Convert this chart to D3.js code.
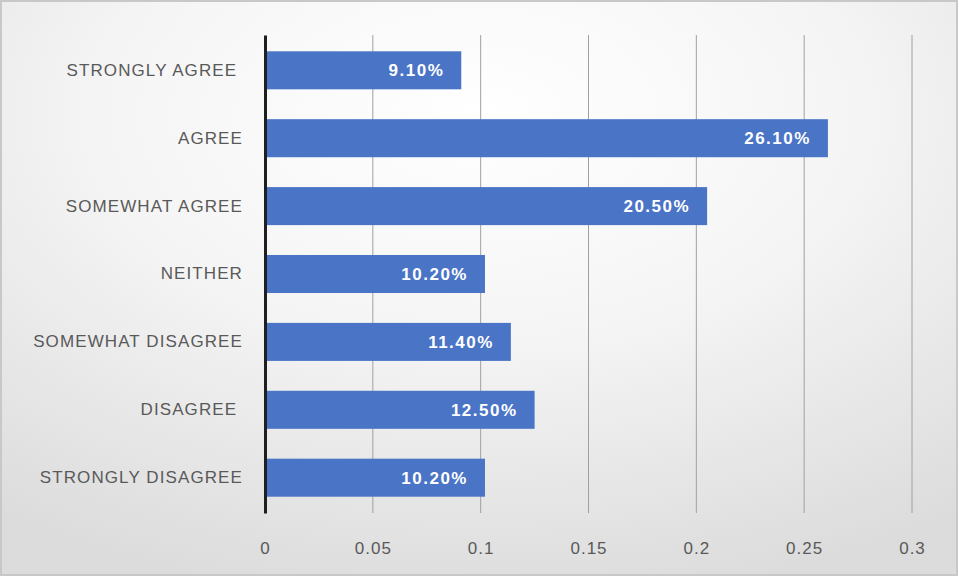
<!DOCTYPE html>
<html>
<head>
<meta charset="utf-8">
<script src="https://cdn.jsdelivr.net/npm/d3@7"></script>
<style>
  body { margin: 0; background: #fff; }
  svg { display: block; }
</style>
</head>
<body>
<div id="chart"></div>
<script>
// survey answers, top to bottom (trailing spaces as in the source sheet)
const categories = ["STRONGLY AGREE ", "AGREE", "SOMEWHAT AGREE", "NEITHER",
                    "SOMEWHAT DISAGREE", "DISAGREE ", "STRONGLY DISAGREE"];
const values = [0.091, 0.261, 0.205, 0.102, 0.114, 0.125, 0.102];
const xTicks = [0, 0.05, 0.1, 0.15, 0.2, 0.25, 0.3];

const W = 959, H = 577;
const margin = { top: 35, right: 47, bottom: 64, left: 265 };
const font = "'Liberation Sans', Arial, sans-serif";

const svg = d3.select("#chart")
              .append("svg")
              .attr("width", W)
              .attr("height", H);

// soft radial background
const defs = svg.append("defs");
const grad = defs.append("radialGradient")
                 .attr("id", "bg")
                 .attr("cx", "0.5").attr("cy", "0.2").attr("r", "0.85");
grad.append("stop").attr("offset", "0%").attr("stop-color", "#ffffff");
grad.append("stop").attr("offset", "45%").attr("stop-color", "#f5f5f5");
grad.append("stop").attr("offset", "100%").attr("stop-color", "#dcdcdc");

svg.append("rect")
   .attr("x", 1).attr("y", 1)
   .attr("width", W - 3).attr("height", H - 3)
   .attr("fill", "url(#bg)")
   .attr("stroke", "#c8c8c8")
   .attr("stroke-width", 2);

const width = W - margin.left - margin.right,
      height = H - margin.top - margin.bottom;

const g = svg.append("g")
             .attr("transform", `translate(${margin.left},${margin.top})`);

const x = d3.scaleLinear()
            .domain([0, 0.3])
            .range([0, width]);

const y = d3.scaleBand()
            .domain(categories)
            .range([0, height])
            .paddingInner(0.44)
            .paddingOuter(0.24);

// vertical gridlines
g.selectAll(".grid")
 .data(xTicks.slice(1))
 .enter()
 .append("line")
 .attr("x1", d => x(d)).attr("x2", d => x(d))
 .attr("y1", 0).attr("y2", height)
 .attr("stroke", "#a0a0a0")
 .attr("stroke-width", 1);

// x axis labels (no domain line)
const xAxis = g.append("g")
               .attr("transform", `translate(0,${height})`)
               .call(d3.axisBottom(x).tickValues(xTicks).tickSize(0).tickPadding(29)
                       .tickFormat(d => String(d)));
xAxis.select(".domain").remove();
xAxis.selectAll("text")
     .attr("fill", "#595959")
     .style("font-family", font)
     .style("font-size", "17px")
     .style("letter-spacing", "1px");

// bars
g.selectAll(".bar")
 .data(values)
 .enter()
 .append("rect")
 .attr("x", x(0))
 .attr("y", (d, i) => y(categories[i]))
 .attr("width", d => x(d) - x(0))
 .attr("height", y.bandwidth())
 .attr("fill", "#4a74c6");

// value labels inside the bars
g.selectAll(".val")
 .data(values)
 .enter()
 .append("text")
 .attr("x", d => x(d) - 17)
 .attr("y", (d, i) => y(categories[i]) + y.bandwidth() / 2)
 .attr("dy", "0.36em")
 .attr("text-anchor", "end")
 .attr("fill", "#ffffff")
 .style("font-family", font)
 .style("font-size", "17px")
 .style("font-weight", "bold")
 .style("letter-spacing", "1.5px")
 .text(d => d3.format(".2%")(d));

// y axis: thick dark line with category labels
const yAxis = g.append("g")
               .call(d3.axisLeft(y).tickSize(0).tickPadding(22));
yAxis.select(".domain")
     .attr("stroke", "#1f1f1f")
     .attr("stroke-width", 3);
yAxis.selectAll("text")
     .attr("fill", "#595959")
     .style("font-family", font)
     .style("font-size", "17px")
     .style("letter-spacing", "1.1px")
     .style("white-space", "pre");
</script>
</body>
</html>
